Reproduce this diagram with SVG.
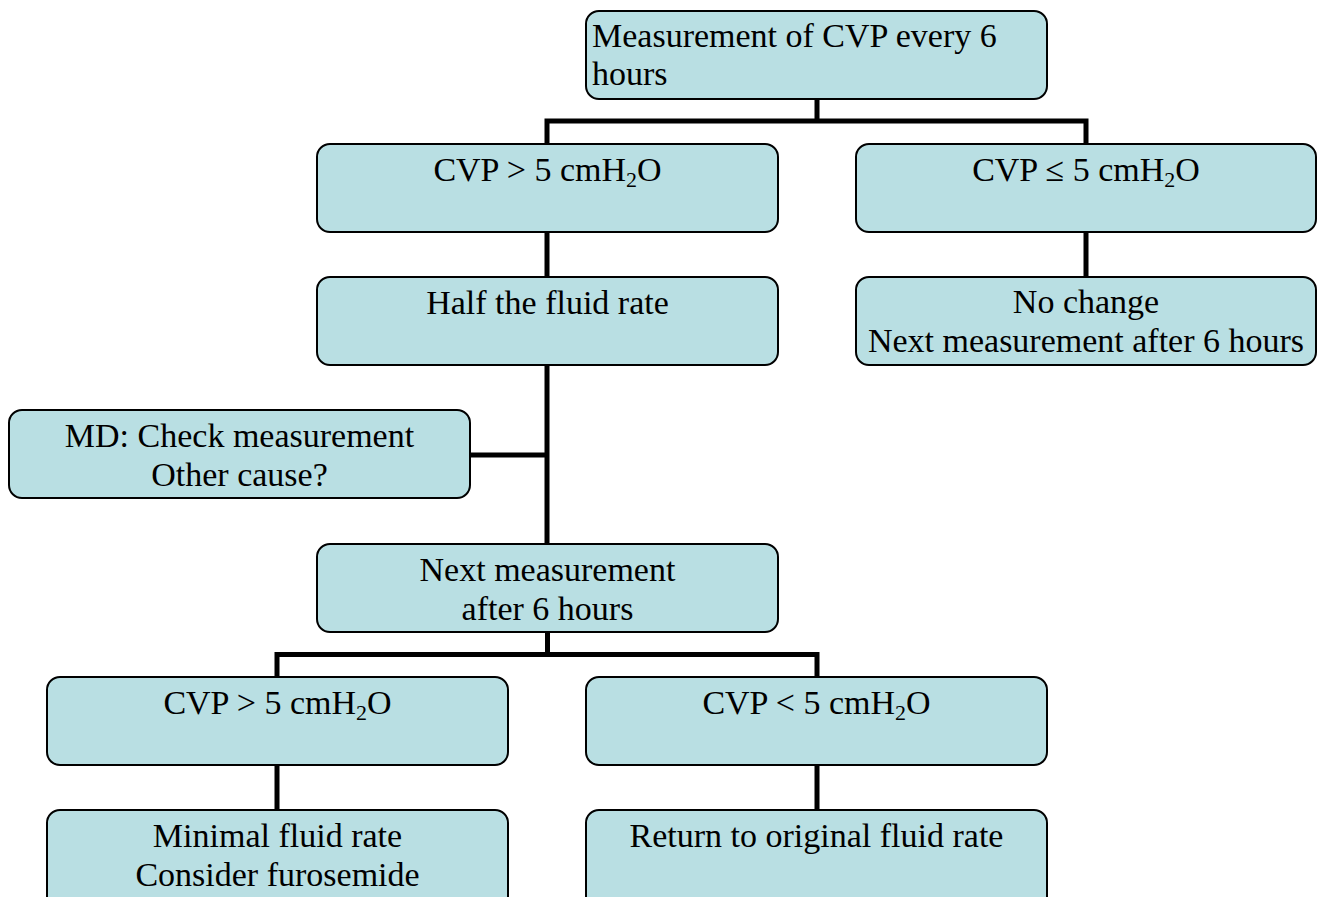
<svg xmlns="http://www.w3.org/2000/svg" width="1317" height="897" viewBox="0 0 1317 897">
<style>
.box{fill:#b9dfe3;stroke:#000;stroke-width:2}
.t{font-family:"Liberation Serif","Times New Roman",serif;font-size:34px;fill:#000}
.c{text-anchor:middle}
.sub{font-size:22px}
.ln{fill:none;stroke:#000;stroke-width:5;stroke-linecap:butt;stroke-linejoin:miter}
</style>
<rect width="1317" height="897" fill="#fff"/>
<g id="connectors">
<path class="ln" d="M817 99V121M547 144V121H1086V144"/>
<path class="ln" d="M547 232V277M1086 232V277"/>
<path class="ln" d="M547 365V544M470 455H547"/>
<path class="ln" d="M547.5 632V654.5M277 677V654.5H817V677"/>
<path class="ln" d="M277 765V810M817 765V810"/>
</g>
<g id="n1"><rect class="box" x="586" y="11" width="461" height="88" rx="13"/>
<text class="t" x="592" y="47">Measurement of CVP every 6</text>
<text class="t" x="592" y="85">hours</text></g>
<g id="n2"><rect class="box" x="317" y="144" width="461" height="88" rx="13"/>
<text class="t c" x="547.5" y="181">CVP &gt; 5 cmH<tspan class="sub" dy="6">2</tspan><tspan dy="-6">O</tspan></text></g>
<g id="n3"><rect class="box" x="856" y="144" width="460" height="88" rx="13"/>
<text class="t c" x="1086" y="181">CVP ≤ 5 cmH<tspan class="sub" dy="6">2</tspan><tspan dy="-6">O</tspan></text></g>
<g id="n4"><rect class="box" x="317" y="277" width="461" height="88" rx="13"/>
<text class="t c" x="547.5" y="314">Half the fluid rate</text></g>
<g id="n5"><rect class="box" x="856" y="277" width="460" height="88" rx="13"/>
<text class="t c" x="1086" y="313">No change</text>
<text class="t c" x="1086" y="352">Next measurement after 6 hours</text></g>
<g id="n6"><rect class="box" x="9" y="410" width="461" height="88" rx="13"/>
<text class="t c" x="239.5" y="447">MD: Check measurement</text>
<text class="t c" x="239.5" y="486">Other cause?</text></g>
<g id="n7"><rect class="box" x="317" y="544" width="461" height="88" rx="13"/>
<text class="t c" x="547.5" y="581">Next measurement</text>
<text class="t c" x="547.5" y="620">after 6 hours</text></g>
<g id="n8"><rect class="box" x="47" y="677" width="461" height="88" rx="13"/>
<text class="t c" x="277.5" y="714">CVP &gt; 5 cmH<tspan class="sub" dy="6">2</tspan><tspan dy="-6">O</tspan></text></g>
<g id="n9"><rect class="box" x="586" y="677" width="461" height="88" rx="13"/>
<text class="t c" x="816.5" y="714">CVP &lt; 5 cmH<tspan class="sub" dy="6">2</tspan><tspan dy="-6">O</tspan></text></g>
<g id="n10"><rect class="box" x="47" y="810" width="461" height="100" rx="13"/>
<text class="t c" x="277.5" y="847">Minimal fluid rate</text>
<text class="t c" x="277.5" y="886">Consider furosemide</text></g>
<g id="n11"><rect class="box" x="586" y="810" width="461" height="100" rx="13"/>
<text class="t c" x="816.5" y="847">Return to original fluid rate</text></g>
</svg>
